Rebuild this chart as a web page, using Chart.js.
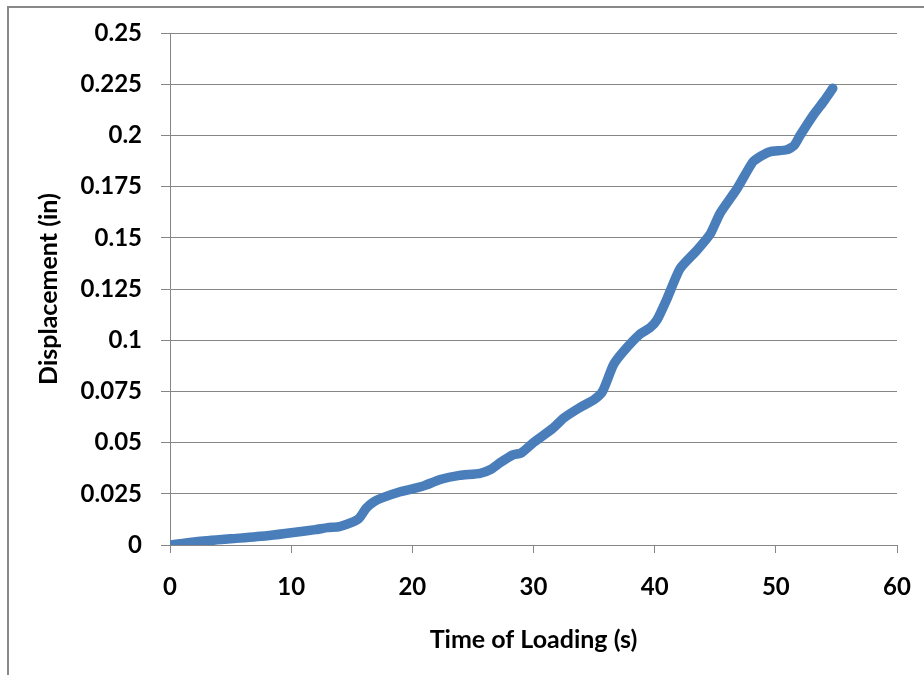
<!DOCTYPE html>
<html>
<head>
<meta charset="utf-8">
<script src="https://cdn.jsdelivr.net/npm/chart.js@4"></script>
<style>
  html, body { margin: 0; padding: 0; background: #fff; }
  #wrap { position: relative; width: 924px; height: 675px; overflow: hidden; }
  #frame { position: absolute; left: 7px; top: 6px; width: 1000px; height: 1000px;
           border-top: 2px solid #888; border-left: 2px solid #888; }
  #grafico { position: absolute; left: 0; top: 0; }
</style>
</head>
<body>
<div id="wrap">
  <div id="frame"></div>
  <canvas id="grafico" width="924" height="675"></canvas>
</div>
<script>
// valores
const tempoSeg = [0, 2, 5, 8, 10, 12, 13, 14, 15, 15.6, 16.2, 16.8, 17.5, 19, 20.4, 21, 22.3, 23.9, 25.6, 26.5,
  27.2, 28.3, 29, 30, 31.6, 32.5, 33.8, 35, 35.7, 36.6, 37.5, 38.8, 39.6, 40.2, 41, 42.1, 43.5, 44.6,
  45.4, 46.8, 48.1, 48.8, 49.5, 50.9, 51.5, 52, 53.1, 54, 54.7];
const deslocamento = [0, 0.0015, 0.003, 0.0045, 0.006, 0.0075, 0.0085, 0.009, 0.011, 0.013, 0.018, 0.021, 0.023,
  0.026, 0.028, 0.029, 0.032, 0.034, 0.035, 0.037, 0.040, 0.044, 0.045, 0.050, 0.057, 0.062, 0.067, 0.071,
  0.075, 0.088, 0.095, 0.103, 0.106, 0.110, 0.120, 0.135, 0.144, 0.152, 0.162, 0.174, 0.187, 0.190, 0.192,
  0.193, 0.195, 0.200, 0.210, 0.217, 0.223];
const ticksX = [0, 10, 20, 30, 40, 50, 60];
const ticksY = [0, 0.025, 0.05, 0.075, 0.1, 0.125, 0.15, 0.175, 0.2, 0.225, 0.25];

const fonte = 'Lato, "Open Sans", sans-serif';
const cinza = '#868686';

const pontos = tempoSeg.map((t, i) => ({ x: t, y: deslocamento[i] }));

const canvas = document.getElementById('grafico');
const grafico = new Chart(canvas, {
  type: 'scatter',
  data: {
    datasets: [{
      label: 'Displacement',
      data: pontos,
      showLine: true,
      borderColor: '#4a7ebb',
      backgroundColor: '#4a7ebb',
      borderWidth: 9.5,
      pointRadius: 0,
      borderCapStyle: 'round',
      borderJoinStyle: 'round',
      tension: 0.2
    }]
  },
  options: {
    responsive: false,
    animation: false,
    layout: { padding: { left: 0, right: 27, top: 33, bottom: 0 } },
    plugins: { legend: { display: false }, tooltip: { enabled: false } },
    scales: {
      x: {
        type: 'linear',
        min: 0,
        max: 60,
        afterBuildTicks: scale => { scale.ticks = ticksX.map(v => ({ value: v })); },
        afterFit: scale => {
          scale.height = 130;
          scale.paddingLeft = 0;
          scale.paddingRight = 0;
        },
        grid: { drawOnChartArea: false, color: cinza, tickLength: 8, tickWidth: 1 },
        border: { color: cinza, width: 1 },
        ticks: { color: '#000', font: { family: fonte, size: 24, weight: 'bold' }, padding: 20, maxRotation: 0 },
        title: {
          display: true,
          text: 'Time of Loading (s)',
          color: '#000',
          font: { family: fonte, size: 25, weight: 'bold' },
          padding: { top: 0, bottom: 20 }
        }
      },
      y: {
        type: 'linear',
        min: 0,
        max: 0.25,
        afterBuildTicks: scale => { scale.ticks = ticksY.map(v => ({ value: v })); },
        afterFit: scale => {
          scale.width = 170;
          scale.paddingTop = 0;
          scale.paddingBottom = 0;
        },
        grid: { color: cinza, tickLength: 9, lineWidth: 1 },
        border: { color: cinza, width: 1 },
        ticks: {
          color: '#000',
          font: { family: fonte, size: 24, weight: 'bold' },
          padding: 19,
          callback: v => String(+v.toFixed(3))
        },
        title: {
          display: true,
          text: 'Displacement (in)',
          color: '#000',
          font: { family: fonte, size: 25, weight: 'bold' },
          padding: { top: 34, bottom: 0 }
        }
      }
    }
  }
});
</script>
</body>
</html>
